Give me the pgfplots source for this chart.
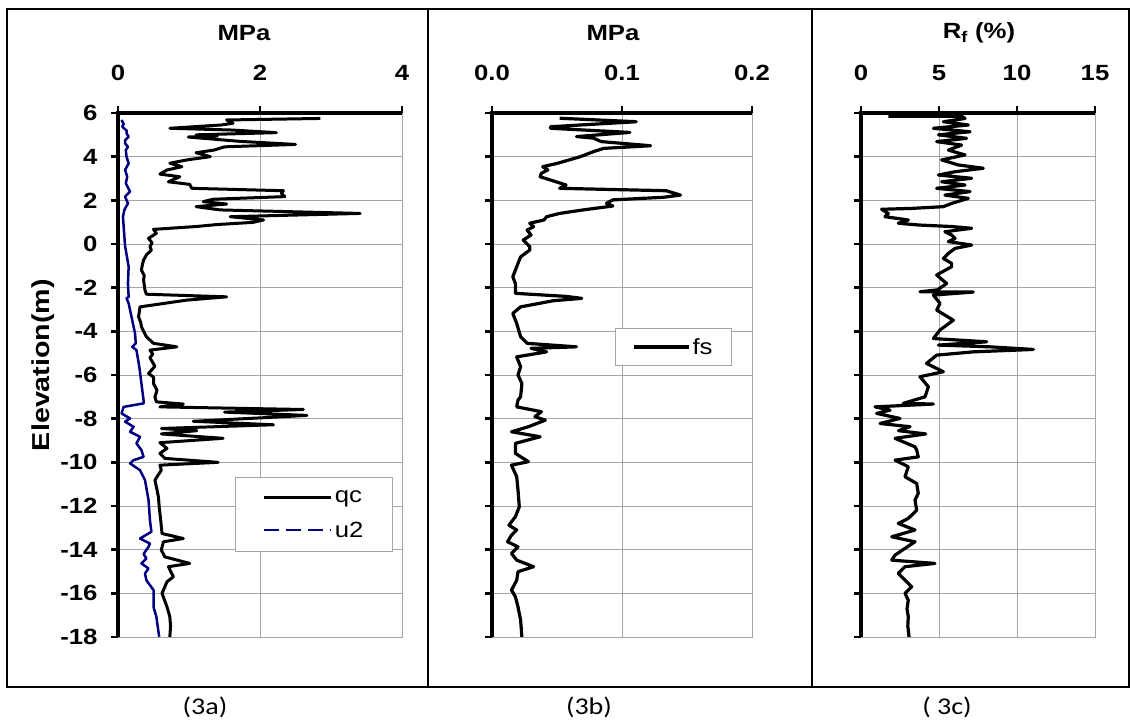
\documentclass[border=0pt]{standalone}
\usepackage{fontspec}
\setmainfont{Liberation Sans}[FakeStretch=1.17]
\newfontfamily\capfont{Carlito}[FakeStretch=1.17]
\usepackage{pgfplots}
\pgfplotsset{compat=1.18}
\definecolor{navyb}{RGB}{0,0,128}
\definecolor{gridg}{RGB}{165,165,165}
\newcommand{\bigf}{\fontsize{22bp}{26bp}\selectfont}
\pgfplotsset{
  cpt/.style={
    scale only axis, height=524bp, anchor=south west,
    ymin=-18, ymax=6, ytick={-18,-16,...,6},
    tick align=outside, xtick pos=upper, xticklabel pos=upper, ytick pos=left,
    major tick length=7bp,
    tick style={black, line width=2.5bp},
    grid=major, major grid style={gridg, line width=0.9bp},
    axis line style={gridg, line width=0.9bp},
    tick label style={font=\bigf\bfseries},
    xticklabel shift=22bp,
    yticklabel shift=10bp,
    after end axis/.code={\draw[black, line width=3.5bp, line join=miter] (rel axis cs:0,0) -- (rel axis cs:0,1) -- (rel axis cs:1,1);},
    legend style={draw=gridg, line width=0.9bp, font=\bigf, cells={anchor=west}},
    legend cell align=left,
  }
}
\begin{document}
\begin{tikzpicture}
\path[use as bounding box] (0,0) rectangle (1130bp,727bp);
\draw[line width=2bp] (7bp,40bp) rectangle (1129bp,718bp);
\draw[line width=1.5bp] (428bp,40bp) -- (428bp,718bp);
\draw[line width=1.5bp] (812bp,40bp) -- (812bp,718bp);

% ---------- (3a)
\begin{axis}[cpt, width=284bp, at={(118bp,90bp)},
  xmin=0, xmax=4, xtick={0,2,4}, xticklabels={0,2,4},
  yticklabels={-18,-16,-14,-12,-10,-8,-6,-4,-2,0,2,4,6},
  legend image code/.code={\draw[#1] (0bp,0bp) -- (67bp,0bp);},
  legend style={at={(0.968,0.162)}, anchor=south east, inner xsep=27bp, inner ysep=11bp, row sep=14bp}]
\addplot[black, line width=3bp, line join=round] table {
x y
2.85 5.75
1.53 5.68
1.62 5.53
1.45 5.45
0.73 5.30
1.60 5.22
2.23 5.10
1.10 5.00
1.40 4.95
0.99 4.90
1.72 4.70
2.50 4.56
1.50 4.45
1.35 4.30
1.10 4.18
1.30 4.00
0.97 3.85
0.73 3.70
0.90 3.54
0.69 3.39
0.59 3.20
0.87 3.08
0.71 2.85
1.01 2.73
1.04 2.55
2.33 2.44
2.30 2.32
2.35 2.17
1.34 2.05
1.20 1.94
1.53 1.83
1.10 1.71
1.44 1.56
3.41 1.40
1.58 1.25
2.05 1.10
1.90 0.99
1.39 0.89
1.10 0.80
0.50 0.67
0.54 0.49
0.43 0.26
0.48 0.05
0.45 -0.12
0.47 -0.28
0.40 -0.50
0.36 -0.74
0.34 -1.00
0.33 -1.20
0.37 -1.45
0.36 -1.65
0.38 -2.11
0.40 -2.30
1.53 -2.42
0.97 -2.57
0.31 -2.88
0.29 -3.33
0.32 -3.60
0.33 -3.79
0.40 -4.25
0.50 -4.55
0.83 -4.71
0.45 -4.86
0.49 -5.05
0.45 -5.20
0.47 -5.32
0.52 -5.60
0.43 -5.93
0.50 -6.10
0.50 -6.39
0.55 -6.70
0.52 -7.00
0.54 -7.23
0.92 -7.33
0.59 -7.46
2.61 -7.58
1.50 -7.70
2.66 -7.85
2.09 -7.95
1.06 -8.12
2.19 -8.28
0.61 -8.45
1.11 -8.55
0.61 -8.70
1.48 -8.90
0.59 -9.10
0.69 -9.36
0.59 -9.59
0.66 -9.82
1.41 -10.00
0.59 -10.13
0.61 -10.36
0.52 -10.81
0.55 -11.27
0.57 -11.60
0.58 -12.04
0.60 -12.60
0.62 -13.26
0.92 -13.49
0.64 -13.64
0.61 -14.02
0.66 -14.33
1.01 -14.63
0.71 -14.78
0.78 -15.24
0.69 -15.47
0.62 -16.00
0.69 -16.62
0.73 -17.07
0.74 -17.50
0.73 -18.00
};
\addlegendentry{qc}
\addplot[navyb, line width=2.5bp, line join=round, forget plot] table {
x y
0.05 5.68
0.08 5.50
0.06 5.37
0.12 5.20
0.12 5.07
0.15 4.92
0.10 4.75
0.10 4.61
0.14 4.45
0.11 4.30
0.12 4.00
0.15 3.69
0.10 3.39
0.13 3.08
0.11 2.78
0.17 2.40
0.10 2.17
0.14 1.86
0.09 1.56
0.07 1.25
0.08 0.79
0.09 0.34
0.10 -0.12
0.11 -0.28
0.15 -1.04
0.14 -1.81
0.15 -2.42
0.12 -2.49
0.15 -2.72
0.19 -3.33
0.24 -4.10
0.25 -4.55
0.20 -4.71
0.26 -4.86
0.30 -5.62
0.33 -6.39
0.35 -6.90
0.36 -7.15
0.36 -7.30
0.08 -7.46
0.05 -7.76
0.17 -7.99
0.10 -8.14
0.22 -8.37
0.17 -8.60
0.31 -8.83
0.26 -9.13
0.33 -9.44
0.36 -9.75
0.22 -9.90
0.17 -10.05
0.31 -10.36
0.38 -10.81
0.43 -11.73
0.45 -12.65
0.47 -13.18
0.31 -13.49
0.45 -13.72
0.43 -13.87
0.36 -14.20
0.40 -14.40
0.33 -14.63
0.43 -14.86
0.38 -15.09
0.40 -15.40
0.50 -15.85
0.50 -16.62
0.54 -17.07
0.58 -17.99
};
\addlegendimage{navyb, line width=2.5bp, dash pattern=on 15bp off 7bp}
\addlegendentry{u2}
\end{axis}

% ---------- (3b)
\begin{axis}[cpt, width=260bp, at={(492bp,90bp)},
  xmin=0, xmax=0.2, xtick={0,0.1,0.2}, xticklabels={0.0,0.1,0.2},
  yticklabels={},
  legend image code/.code={\draw[#1] (0bp,0bp) -- (55bp,0bp);},
  legend style={at={(0.923,0.517)}, anchor=south east, inner xsep=17bp, inner ysep=8bp}]
\addplot[black, line width=3.2bp, line join=round] table {
x y
0.052 5.76
0.111 5.60
0.045 5.37
0.045 5.30
0.106 5.11
0.065 4.92
0.078 4.85
0.084 4.69
0.122 4.50
0.086 4.38
0.078 4.23
0.068 4.00
0.050 3.69
0.039 3.54
0.043 3.39
0.038 3.24
0.037 3.08
0.045 2.93
0.057 2.70
0.052 2.55
0.134 2.44
0.145 2.24
0.132 2.14
0.093 2.02
0.088 1.86
0.093 1.74
0.070 1.56
0.052 1.40
0.042 1.25
0.040 1.10
0.029 0.95
0.032 0.79
0.027 0.64
0.030 0.41
0.024 0.18
0.029 -0.12
0.029 -0.28
0.022 -0.59
0.019 -1.04
0.016 -1.50
0.018 -1.81
0.018 -2.26
0.057 -2.40
0.069 -2.49
0.047 -2.60
0.022 -2.88
0.016 -3.18
0.019 -3.64
0.022 -4.25
0.027 -4.55
0.065 -4.71
0.030 -4.78
0.042 -4.94
0.019 -5.17
0.022 -5.62
0.020 -6.00
0.023 -6.39
0.022 -7.00
0.020 -7.15
0.019 -7.46
0.038 -7.68
0.033 -7.91
0.041 -8.07
0.028 -8.37
0.015 -8.60
0.037 -8.83
0.018 -9.13
0.018 -9.59
0.028 -9.97
0.015 -10.13
0.019 -10.66
0.020 -11.27
0.021 -12.04
0.018 -12.49
0.013 -12.88
0.019 -13.10
0.015 -13.33
0.012 -13.64
0.020 -13.87
0.015 -14.17
0.019 -14.48
0.032 -14.78
0.020 -15.01
0.019 -15.40
0.015 -15.85
0.018 -16.16
0.020 -16.62
0.022 -17.23
0.023 -18.00
};
\addlegendentry{fs}
\end{axis}

% ---------- (3c)
\begin{axis}[cpt, width=234bp, at={(861bp,90bp)},
  xmin=0, xmax=15, xtick={0,5,10,15}, xticklabels={0,5,10,15},
  yticklabels={}]
\addplot[black, line width=3.2bp, line join=round] table {
x y
1.75 5.85
6.45 5.85
6.67 5.75
5.28 5.60
6.88 5.45
4.64 5.30
6.99 5.14
4.96 5.00
6.77 4.84
4.85 4.69
6.45 4.53
5.60 4.30
6.67 4.08
5.17 3.85
6.24 3.62
7.84 3.47
6.03 3.31
4.96 3.16
7.09 3.01
5.17 2.85
6.67 2.70
4.85 2.55
6.99 2.40
5.38 2.24
6.88 2.09
5.81 1.86
5.28 1.71
3.25 1.63
1.32 1.59
1.75 1.40
1.54 1.25
3.03 1.10
2.39 0.95
3.68 0.87
5.81 0.80
7.09 0.72
5.38 0.56
5.81 0.41
6.03 0.26
5.60 0.11
7.09 -0.05
6.03 -0.20
5.60 -0.43
5.28 -0.66
5.81 -0.89
5.81 -1.04
4.85 -1.42
5.49 -1.81
4.90 -2.10
3.78 -2.19
7.20 -2.20
4.64 -2.34
5.06 -2.72
4.85 -3.03
5.92 -3.49
5.06 -3.94
4.64 -4.33
8.06 -4.48
4.96 -4.63
8.27 -4.71
11.05 -4.83
7.20 -4.94
4.85 -5.09
4.20 -5.47
5.28 -5.85
3.78 -6.08
4.32 -6.54
4.10 -7.00
2.71 -7.30
4.64 -7.33
0.90 -7.46
1.86 -7.61
1.00 -7.76
2.50 -7.99
1.22 -8.22
3.14 -8.37
2.40 -8.55
4.15 -8.70
2.18 -8.90
3.46 -9.29
3.57 -9.44
3.67 -9.75
2.18 -9.90
3.03 -10.20
2.82 -10.66
3.57 -10.97
3.67 -11.42
3.46 -11.73
3.57 -12.19
3.03 -12.57
2.39 -12.80
3.46 -13.10
1.97 -13.41
3.46 -13.64
2.82 -13.94
2.18 -14.25
1.97 -14.48
4.74 -14.63
2.82 -14.78
2.39 -15.09
2.82 -15.40
3.25 -15.70
2.82 -16.00
3.03 -16.31
2.95 -16.70
3.03 -17.07
3.00 -17.50
3.08 -18.00
};
\end{axis}

% ---------- texts
\node[font=\bigf\bfseries] at (244bp,694bp) {MPa};
\node[font=\bigf\bfseries] at (613bp,694bp) {MPa};
\node[font=\bigf\bfseries] at (979bp,694bp) {R\textsubscript{f} (\%)};
\node[font=\fontsize{24.5bp}{28bp}\selectfont\bfseries, rotate=90] at (43bp,362bp) {Elevation(m)};
\node[font=\capfont\fontsize{24bp}{28bp}\selectfont] at (205bp,20bp) {(3a)};
\node[font=\capfont\fontsize{24bp}{28bp}\selectfont] at (589bp,20bp) {(3b)};
\node[font=\capfont\fontsize{24bp}{28bp}\selectfont] at (947bp,20bp) {( 3c)};
\end{tikzpicture}
\end{document}
